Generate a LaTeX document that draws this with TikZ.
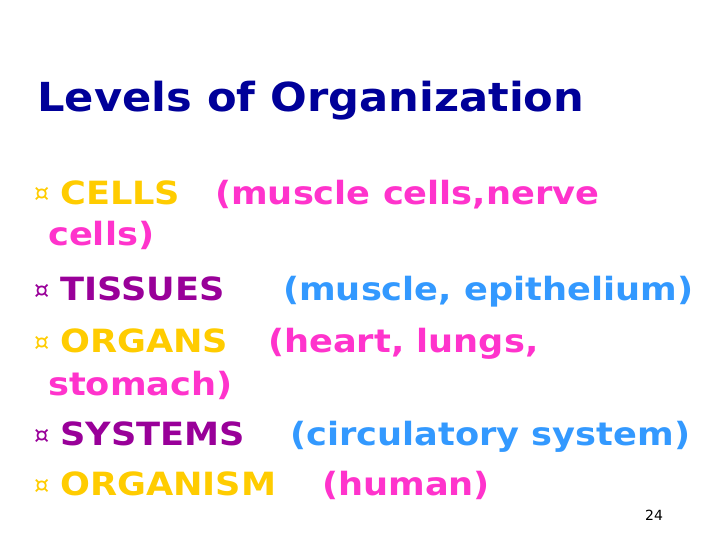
\documentclass[tikz,border=0pt]{standalone}
\usepackage{fontspec}
\setmainfont{DejaVu Sans}
\definecolor{ttl}{HTML}{000099}
\definecolor{yel}{HTML}{FFCC00}
\definecolor{pnk}{HTML}{FF33CC}
\definecolor{pur}{HTML}{990099}
\definecolor{blu}{HTML}{3399FF}
\newcommand{\widen}[1]{\scalebox{1.1}[1]{#1}}
\tikzset{t/.style={anchor=base west,inner sep=0pt,font=\fontsize{32}{34}\selectfont\bfseries},
bul/.style={anchor=base west,inner sep=0pt,font=\fontsize{24}{26}\selectfont}}
\begin{document}
\begin{tikzpicture}[x=1pt,y=-1pt]
\useasboundingbox (0,0) rectangle (720,540);
\node[anchor=base west,inner sep=0pt,text=ttl,font=\fontsize{40}{42}\selectfont\bfseries] (title) at (37,112) {\scalebox{1.08}[1]{Levels of Organization}};
\node[bul,text=yel] (b1) at (34,202) {¤};
\node[t,text=yel] (c) at (60,205) {\widen{CELLS}};
\node[t,text=pnk] (c2) at (215,205) {\widen{(muscle cells,nerve}};
\node[t,text=pnk] (c3) at (48,245) {\widen{cells)}};
\node[bul,text=pur] (b2) at (34,298) {¤};
\node[t,text=pur] (ts) at (60,300) {\widen{TISSUES}};
\node[t,text=blu] (ts2) at (283,300) {\widen{(muscle, epithelium)}};
\node[bul,text=yel] (b3) at (34,350) {¤};
\node[t,text=yel] (o) at (60,352) {\widen{ORGANS}};
\node[t,text=pnk] (o2) at (268,352) {\widen{(heart, lungs,}};
\node[t,text=pnk] (o3) at (48,395) {\widen{stomach)}};
\node[bul,text=pur] (b4) at (34,443) {¤};
\node[t,text=pur] (s) at (60,445) {\widen{SYSTEMS}};
\node[t,text=blu] (s2) at (290,445) {\widen{(circulatory system)}};
\node[bul,text=yel] (b5) at (34,493) {¤};
\node[t,text=yel] (g) at (60,495) {\widen{ORGANISM}};
\node[t,text=pnk] (g2) at (322,495) {\widen{(human)}};
\node[anchor=base west,inner sep=0pt,font=\fontsize{14}{15}\selectfont] (n) at (645,520) {24};
\end{tikzpicture}
\end{document}
